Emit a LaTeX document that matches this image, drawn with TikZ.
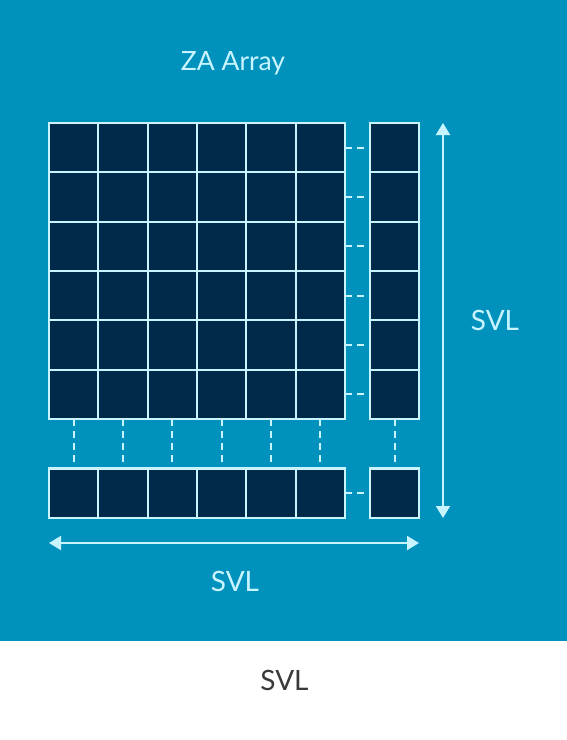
\documentclass[tikz,border=0pt]{standalone}
\usepackage{fontspec}
\setmainfont{Lato}
\usetikzlibrary{arrows.meta}
\definecolor{bgblue}{RGB}{0,145,189}
\definecolor{cellnavy}{RGB}{1,42,74}
\definecolor{lightcyan}{RGB}{200,244,255}
\definecolor{graytext}{RGB}{58,58,58}
\tikzset{
  cell/.style={draw=lightcyan, fill=cellnavy, line width=2.2pt, minimum size=49.33pt, inner sep=0pt, outer sep=0pt, anchor=north west},
  dashln/.style={draw=lightcyan, line width=2pt, dash pattern=on 7pt off 5pt},
  dimarrow/.style={draw=lightcyan, line width=2pt, {Triangle[width=14pt,length=12pt]}-{Triangle[width=14pt,length=12pt]}},
  lbl/.style={text=lightcyan, font=\fontsize{28}{32}\selectfont, anchor=base, inner sep=0pt},
}
\begin{document}
\begin{tikzpicture}[x=1pt,y=-1pt]
\useasboundingbox (0,0) rectangle (567,740);
\fill[white] (0,0) rectangle (567,740);
\fill[bgblue] (0,0) rectangle (567,641);
% main grid
\foreach \i in {1,...,6} {
  \foreach \j in {1,...,6} {
    \node[cell] (c-\i-\j) at ({49+(\j-1)*49.33},{123+(\i-1)*49.33}) {};
  }
  \node[cell] (r-\i) at (370,{123+(\i-1)*49.33}) {};
}
\foreach \j in {1,...,6} {
  \node[cell] (b-\j) at ({49+(\j-1)*49.33},468.5) {};
}
\node[cell] (z) at (370,468.5) {};
% dashed links
\foreach \i in {1,...,6} {
  \draw[dashln] (c-\i-6.east) -- (r-\i.west);
}
\foreach \j in {1,...,6} {
  \draw[dashln] (c-6-\j.south) -- (b-\j.north);
}
\draw[dashln] (r-6.south) -- (z.north);
\draw[dashln] (b-6.east) -- (z.west);
% dimension arrows
\coordinate (vt) at (443,123);
\coordinate (vb) at (443,518);
\coordinate (hl) at (49,543);
\coordinate (hr) at (419,543);
\draw[dimarrow] (vt) -- (vb);
\draw[dimarrow] (hl) -- (hr);
% labels
\node[lbl, font=\fontsize{26.5}{30}\selectfont] (title) at (233,70) {ZA Array};
\node[lbl] (svlr) at (495,330.5) {SVL};
\node[lbl] (svlb) at (235,591) {SVL};
\node[lbl, text=graytext] (svlg) at (284.5,690) {SVL};
\end{tikzpicture}
\end{document}
